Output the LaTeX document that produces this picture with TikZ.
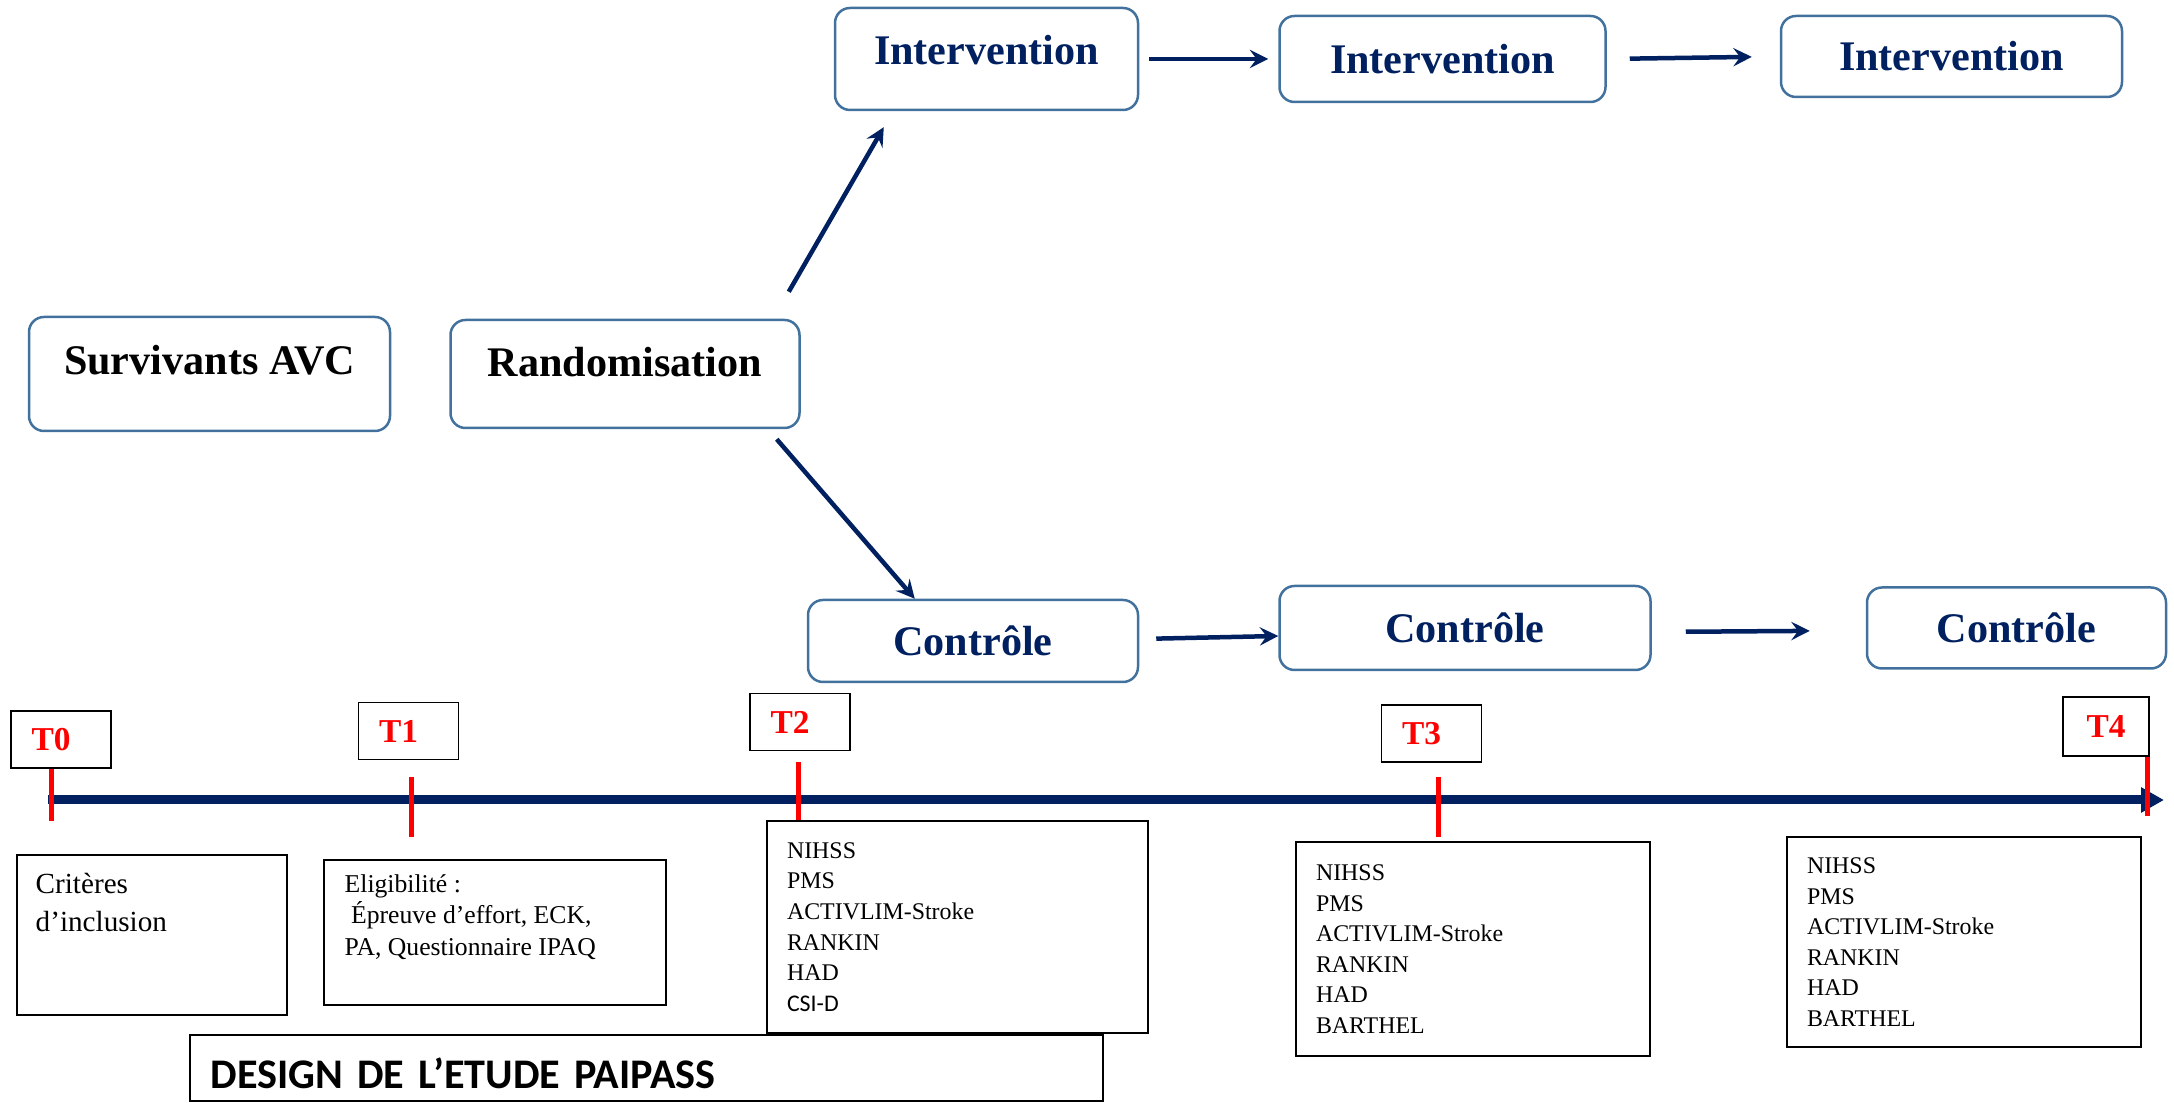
\documentclass[tikz,border=0pt]{standalone}
\usepackage{fontspec}
\setmainfont{Liberation Serif}
\newfontfamily\calibri{Carlito}
\usepackage{xcolor}
\usepackage{tikz}
\usetikzlibrary{positioning,arrows.meta}
\definecolor{navy}{RGB}{0,32,96}
\definecolor{boxblue}{RGB}{65,113,156}

\begin{document}
\begin{tikzpicture}[x=0.1mm, y=-0.1mm]
\tikzstyle{phase} = [rectangle, draw=boxblue, line width=0.25mm, rounded corners=1.5mm, inner sep=0pt, font=\fontsize{12}{14}\selectfont\bfseries]
\tikzstyle{tlabel} = [rectangle, draw, line width=0.15mm, minimum width=10mm, minimum height=5.7mm, inner sep=0pt, text=red, font=\fontsize{9.5}{11}\selectfont\bfseries]
\tikzstyle{listbox} = [rectangle, draw, line width=0.2mm, align=left, inner xsep=2mm, font=\fontsize{6.8}{8.7}\selectfont]
\tikzstyle{arrow} = [line width=0.45mm, draw=navy, ->, >=stealth]
\tikzstyle{tick} = [draw=red, line width=0.5mm]

\useasboundingbox (0,0) rectangle (2174,1103);

% groupes
\node (surv) [phase, minimum width=36.1mm, minimum height=11.4mm, text depth=2.8mm] at (209.5,374) {Survivants AVC};
\node (rand) [phase, right=5.8mm of surv, minimum width=34.9mm, minimum height=10.8mm, text depth=2.4mm] {Randomisation};
\node (int1) [phase, text=navy, minimum width=30.3mm, minimum height=10.2mm, text depth=1.8mm] at (986.5,59) {Intervention};
\node (int2) [phase, text=navy, right=13.9mm of int1, minimum width=32.6mm, minimum height=8.6mm] {Intervention};
\node (int3) [phase, text=navy, right=17.3mm of int2, yshift=0.25mm, minimum width=34.1mm, minimum height=8.1mm] {Intervention};
\node (ctl1) [phase, text=navy, minimum width=33mm, minimum height=8.2mm] at (973,641) {Contrôle};
\node (ctl2) [phase, text=navy, right=13.9mm of ctl1, yshift=1.3mm, minimum width=37.1mm, minimum height=8.4mm] {Contrôle};
\node (ctl3) [phase, text=navy, right=21.4mm of ctl2, minimum width=29.9mm, minimum height=8.1mm] {Contrôle};

\draw [arrow] ([xshift=-1.2mm,yshift=2.7mm]rand.north east) -- ([xshift=5mm,yshift=-1.6mm]int1.south west);
\draw [arrow] ([xshift=-2.4mm,yshift=-1mm]rand.south east) -- ([xshift=10.8mm]ctl1.north west);
\draw [arrow, shorten <=1mm, shorten >=1mm] (int1.east) -- (int2.west);
\draw [arrow, shorten <=2.3mm, shorten >=2.8mm] (int2.east) -- (int3.west);
\draw [arrow, shorten <=1.7mm] ([yshift=0.2mm]ctl1.east) -- ([yshift=-0.8mm]ctl2.west);
\draw [arrow, shorten <=3.4mm, shorten >=5.6mm] ([yshift=-0.4mm]ctl2.east) -- ([yshift=-0.25mm]ctl3.west);

% axe du temps
\coordinate (tstart) at (48,800);
\coordinate (tend) at (2164,800);
\draw [navy, line width=0.9mm, -{Triangle[length=2.3mm,width=2.4mm]}] (tstart) -- (tend);

\node (t0) [tlabel] at (61,739.5) {T0\hspace*{2mm}};
\node (t1) [tlabel] at (408.5,731) {T1\hspace*{2mm}};
\node (t2) [tlabel] at (800,722) {T2\hspace*{2mm}};
\node (t3) [tlabel] at (1431.5,733.5) {T3\hspace*{2mm}};
\node (t4) [tlabel, minimum width=8.6mm, minimum height=5.9mm] at (2106,726.5) {T4};

\draw [tick] ([xshift=-1mm]t0.south) -- ++(0,52);
\draw [tick] ([xshift=0.25mm,yshift=-1.7mm]t1.south) -- ++(0,60);
\draw [tick] ([xshift=-0.2mm,yshift=-1.1mm]t2.south) -- ++(0,60);
\draw [tick] ([xshift=0.65mm,yshift=-1.4mm]t3.south) -- ++(0,60);
\draw [tick] ([xshift=-0.2mm]t4.south east) -- ++(0,59);

% mesures
\node (crit) [listbox, minimum width=27mm, minimum height=16mm] at (152,935) {};
\node (crittxt) [below right=1.9mm and 1.9mm of crit.north west, inner sep=0pt, align=left, font=\fontsize{8.3}{10.6}\selectfont] {Critères\\d’inclusion};
\node (elig) [listbox, minimum width=34.2mm, minimum height=14.5mm] at (495,932.5) {};
\node (eligtxt) [below right=1.5mm and 2.1mm of elig.north west, inner sep=0pt, align=left, font=\fontsize{7.3}{8.9}\selectfont] {Eligibilité :\\~Épreuve d’effort, ECK,\\PA, Questionnaire IPAQ};
\node (m2) [listbox, text width=34.1mm, minimum height=21.2mm] at (957.5,927) {NIHSS\\PMS\\ACTIVLIM-Stroke\\RANKIN\\HAD\\{\calibri CSI-D}};
\node (m3) [listbox, text width=31.4mm, minimum height=21.4mm] at (1473,949) {NIHSS\\PMS\\ACTIVLIM-Stroke\\RANKIN\\HAD\\BARTHEL};
\node (m4) [listbox, text width=31.4mm, minimum height=21mm] at (1964,942) {NIHSS\\PMS\\ACTIVLIM-Stroke\\RANKIN\\HAD\\BARTHEL};

\node (design) [rectangle, draw, line width=0.2mm, minimum width=91.3mm, minimum height=6.6mm, text width=87.1mm, text height=4.1mm, inner xsep=2.1mm, align=left, font=\calibri\bfseries\fontsize{12}{14}\selectfont] at (646,1068) {DESIGN DE L’ETUDE PAIPASS};

\end{tikzpicture}
\end{document}
